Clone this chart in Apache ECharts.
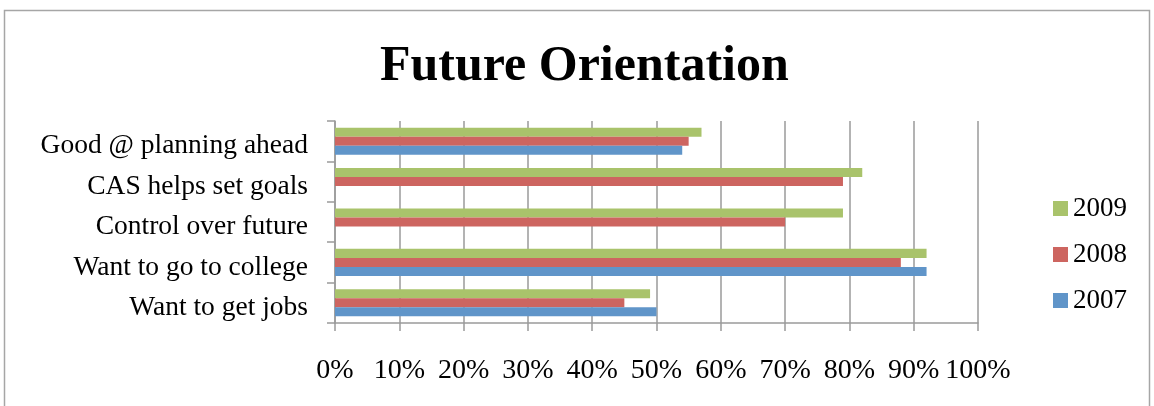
<!DOCTYPE html>
<html>
<head>
<meta charset="utf-8">
<script src="https://cdn.jsdelivr.net/npm/echarts@6/dist/echarts.min.js"></script>
<style>
  html, body { margin: 0; padding: 0; background: #fff; }
  #main { width: 1154px; height: 406px; }
</style>
</head>
<body>
<div id="main"></div>
<script>
// categories bottom-to-top (category axis starts at the bottom)
var categories = ['Want to get jobs', 'Want to go to college', 'Control over future', 'CAS helps set goals', 'Good @ planning ahead'];
// first series is drawn on top inside each group
var years = ['2009', '2008', '2007'];
// values in percent, null = no bar
var v2009 = [49, 92, 79, 82, 57];
var v2008 = [45, 88, 70, 79, 55];
var v2007 = [50, 92, null, null, 54];
var colors = ['#A9C36B', '#CD6560', '#6095C9'];
var xTicks = [0, 10, 20, 30, 40, 50, 60, 70, 80, 90, 100];

var serif = '"Liberation Serif", "DejaVu Serif", serif';
var axisGray = '#9a9a9a';

var myChart = echarts.init(document.getElementById('main'));

var option = {
    animation: false,
    title: {
        text: 'Future Orientation',
        left: 375,
        top: 37,
        textStyle: { fontFamily: serif, fontWeight: 'bold', fontSize: 50, color: '#000' }
    },
    legend: {
        orient: 'vertical',
        left: 1048,
        top: 190,
        itemWidth: 15,
        itemHeight: 15,
        itemGap: 19,
        icon: 'rect',
        data: years,
        textStyle: { fontFamily: serif, fontSize: 27, color: '#000' }
    },
    graphic: [{
        type: 'rect',
        shape: { x: 4.5, y: 10.5, width: 1145, height: 420 },
        style: { fill: 'none', stroke: '#a6a6a6', lineWidth: 1.5 },
        silent: true
    }],
    grid: { left: 335, right: 176, top: 121, bottom: 83 },
    xAxis: {
        type: 'value',
        min: xTicks[0],
        max: xTicks[xTicks.length - 1],
        interval: 10,
        axisLine: { show: true, lineStyle: { color: axisGray, width: 1.5 } },
        axisTick: { show: true, length: 8, lineStyle: { color: axisGray, width: 1.5 } },
        splitLine: { show: true, lineStyle: { color: axisGray, width: 1.5 } },
        axisLabel: {
            margin: 34,
            fontFamily: serif, fontSize: 28, color: '#000',
            formatter: function (v) { return v + '%'; }
        }
    },
    yAxis: {
        type: 'category',
        data: categories,
        axisLine: { show: true, lineStyle: { color: axisGray, width: 1.5 } },
        axisTick: { show: true, length: 8, lineStyle: { color: axisGray, width: 1.5 } },
        axisLabel: {
            margin: 27,
            formatter: function (v) { return '{l|' + v + '}'; },
            rich: {
                l: { fontFamily: serif, fontSize: 27.5, color: '#000', padding: [10, 0, 0, 0] }
            }
        }
    },
    series: years.map(function (y, i) {
        return {
            name: y,
            type: 'bar',
            data: [v2009, v2008, v2007][i],
            itemStyle: { color: colors[i] },
            barGap: '0%',
            barCategoryGap: '33%'
        };
    })
};

myChart.setOption(option);
</script>
</body>
</html>
